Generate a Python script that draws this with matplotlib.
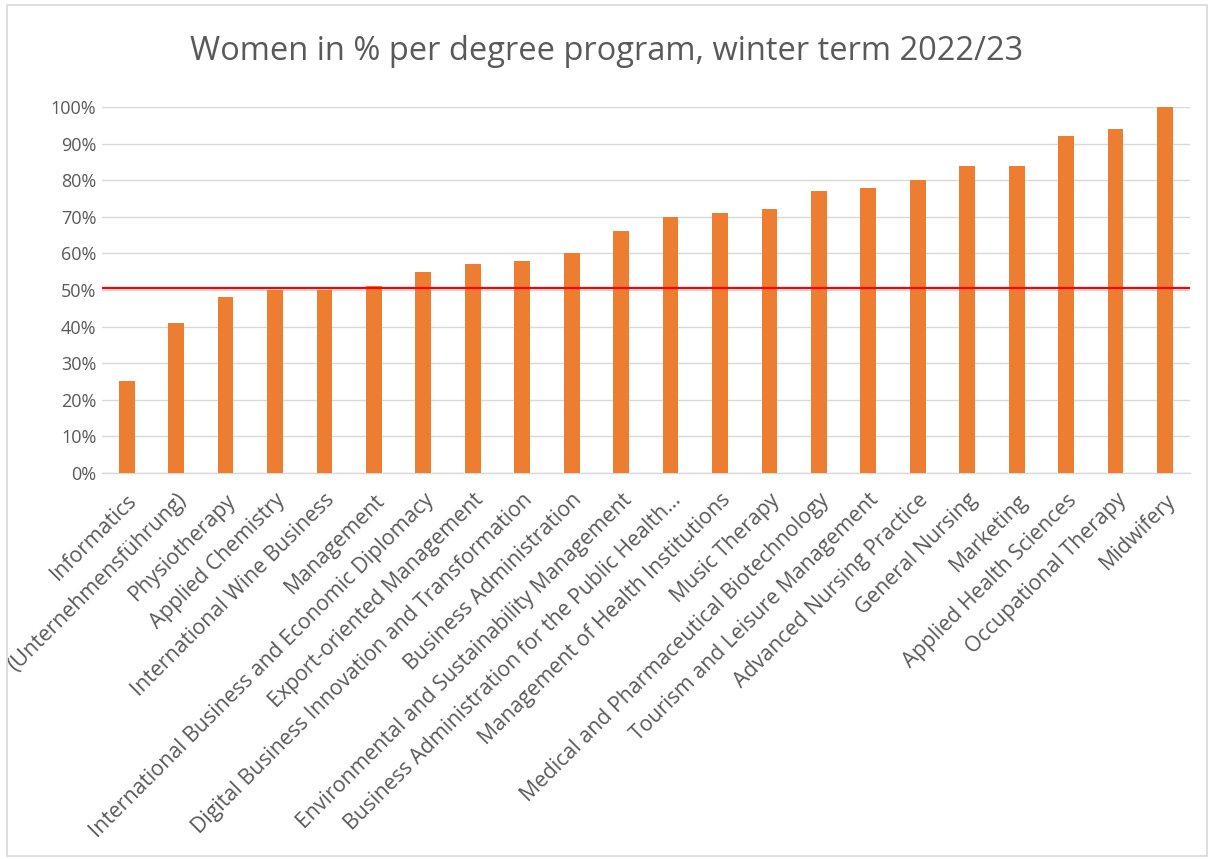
import matplotlib
matplotlib.use("Agg")
import matplotlib.pyplot as plt
from matplotlib.patches import Rectangle
from matplotlib.ticker import PercentFormatter

programs = [
    "Informatics",
    "(Unternehmensführung)",
    "Physiotherapy",
    "Applied Chemistry",
    "International Wine Business",
    "Management",
    "International Business and Economic Diplomacy",
    "Export-oriented Management",
    "Digital Business Innovation and Transformation",
    "Business Administration",
    "Environmental and Sustainability Management",
    "Business Administration for the Public Health…",
    "Management of Health Institutions",
    "Music Therapy",
    "Medical and Pharmaceutical Biotechnology",
    "Tourism and Leisure Management",
    "Advanced Nursing Practice",
    "General Nursing",
    "Marketing",
    "Applied Health Sciences",
    "Occupational Therapy",
    "Midwifery",
]
women_share = [0.25, 0.41, 0.48, 0.50, 0.50, 0.51, 0.55, 0.57, 0.58, 0.60, 0.66,
               0.70, 0.71, 0.72, 0.77, 0.78, 0.80, 0.84, 0.84, 0.92, 0.94, 1.00]
reference_line = 0.505
y_ticks = [i / 10 for i in range(11)]

plt.rcParams['font.family'] = ['Open Sans', 'DejaVu Sans']
text_color = "#595959"

fig = plt.figure(figsize=(12.14, 8.59), dpi=100)
ax = fig.add_axes([0.084, 0.4494, 0.896, 0.426])

x = list(range(len(programs)))
ax.bar(x, women_share, width=0.32, color="#ED7D31", zorder=3)
ax.axhline(reference_line, color="#FF0000", linewidth=1.6, zorder=4)

ax.set_xlim(-0.5, len(programs) - 0.5)
ax.set_ylim(0, 1.0)
ax.set_yticks(y_ticks)
ax.yaxis.set_major_formatter(PercentFormatter(1.0, decimals=0))
ax.grid(axis='y', color="#D9D9D9", linewidth=1.0, zorder=0)
ax.set_axisbelow(True)
for s in ['top', 'right', 'left']:
    ax.spines[s].set_visible(False)
ax.spines['bottom'].set_color("#D9D9D9")
ax.spines['bottom'].set_linewidth(1.0)
ax.tick_params(axis='both', length=0, colors=text_color)
ax.tick_params(axis='y', pad=4, labelsize=13)
ax.set_xticks(x)
ax.set_xticklabels(programs, rotation=45, ha='right', rotation_mode='anchor',
                   color=text_color, fontsize=15.3)
ax.tick_params(axis='x', pad=12)

fig.text(0.5, 0.94, "Women in % per degree program, winter term 2022/23",
         ha='center', va='center', fontsize=23.5, color=text_color)

fig.patches.append(Rectangle((0.006, 0.004), 0.988, 0.99, transform=fig.transFigure,
                             fill=False, edgecolor="#D9D9D9", linewidth=1.2))

fig.savefig("out.png", dpi=100)
